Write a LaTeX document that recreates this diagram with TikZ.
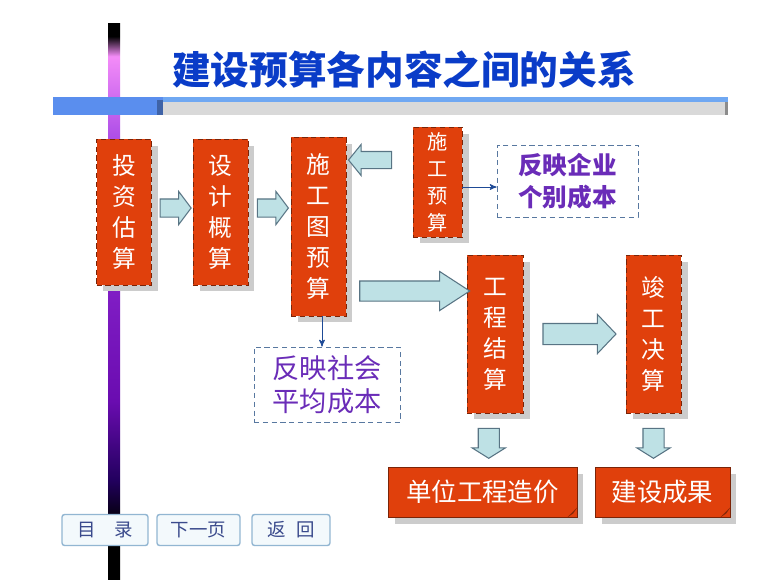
\documentclass[tikz,border=0pt]{standalone}
\usepackage{fontspec}
\newfontfamily\cjk{Noto Sans CJK SC}
\usepackage{tikz}
\usetikzlibrary{arrows, shapes.arrows, shadows, calc}
\usepackage{color}

\definecolor{boxred}{HTML}{E0400C}
\definecolor{boxline}{HTML}{7A2408}
\definecolor{arrowfill}{HTML}{BEE1E5}
\definecolor{arrowline}{HTML}{587484}
\definecolor{titleblue}{HTML}{0A3CC8}
\definecolor{notepurple}{HTML}{6A2CB8}
\definecolor{noteline}{HTML}{5878A0}
\definecolor{linkblue}{HTML}{1E4A96}
\definecolor{barblue}{HTML}{5A8EEE}
\definecolor{bartop}{HTML}{70A8F2}
\definecolor{bargray}{HTML}{D9D9D9}
\definecolor{btnfill}{HTML}{F3F9FC}
\definecolor{btnline}{HTML}{92B6D2}
\definecolor{btntext}{HTML}{3A4A8C}
\definecolor{barpink}{HTML}{F48CF8}
\definecolor{barviolet}{HTML}{B050E8}
\definecolor{barpurple}{HTML}{8420C8}
\definecolor{bardeep}{HTML}{6A0CB0}
\definecolor{barnavy}{HTML}{22005E}

% the path is fitted to 25bp..75bp of the shading
\pgfdeclareverticalshading{purplebar}{100bp}{color(0bp)=(black); color(29.9bp)=(black);
  color(33.9bp)=(barnavy); color(41bp)=(bardeep); color(52.5bp)=(barpurple);
  color(65bp)=(barviolet); color(72bp)=(barpink); color(73.8bp)=(black); color(100bp)=(black)}

\tikzset{
  redbox/.style={draw=boxline, densely dashed, fill=boxred, text=white, inner sep=0pt,
    minimum width=1.1cm, align=center, font=\cjk\fontsize{13.5}{17.6}\selectfont,
    drop shadow={shadow xshift=0.13cm, shadow yshift=-0.13cm, fill=black!20, opacity=1}},
  resultbox/.style={redbox, solid, font=\cjk\fontsize{14.5}{18}\selectfont},
  flowarrow/.style={single arrow, draw=arrowline, fill=arrowfill, line width=0.6pt,
    inner xsep=0pt, minimum width=0pt},
  notebox/.style={draw=noteline, densely dashed, fill=white, text=notepurple, align=center},
  linkarrow/.style={->, >=stealth', draw=linkblue, line width=0.5pt},
  navbtn/.style={draw=btnline, line width=0.8pt, rounded corners=1.5pt, fill=btnfill,
    text=btntext, minimum height=0.62cm, font=\cjk\fontsize{10.5}{12}\selectfont}
}

\begin{document}
\begin{tikzpicture}[x=0.02cm, y=-0.02cm]
  \useasboundingbox[fill=white] (0,0) rectangle (760,579);

  % side bar and title bar
  \shade[shading=purplebar] (108,23) rectangle (120,579);
  \fill[bartop] (162,97) rectangle (728,102);
  \fill[bargray] (162,102) rectangle (728,115);
  \fill[black!45] (725,102) rectangle (728,115);
  \fill[barblue] (53,97) rectangle (163,115);
  \fill[barblue!70!black] (157,100) rectangle (163,115);

  \node[font=\cjk\bfseries\fontsize{22}{26}\selectfont, text=titleblue] (title) at (404,70) {建设预算各内容之间的关系};

  % main boxes
  \node[redbox, minimum height=2.92cm] (tz) at (124,212) {投\\资\\估\\算};
  \node[redbox, minimum height=2.92cm] (sj) at (220.5,212) {设\\计\\概\\算};
  \node[redbox, minimum height=3.58cm] (sgt) at (318.5,226.5) {施\\工\\图\\预\\算};
  \node[redbox, minimum width=0.98cm, minimum height=2.2cm,
    font=\cjk\fontsize{11.5}{15.3}\selectfont] (sg) at (437.5,182) {施\\工\\预\\算};
  \node[redbox, minimum width=1.12cm, minimum height=3.16cm] (js) at (495,334) {工\\程\\结\\算};
  \node[redbox, minimum height=3.16cm] (jg) at (653.5,334) {竣\\工\\决\\算};
  \node[resultbox, minimum width=3.78cm, minimum height=1cm] (dw) at (482.5,492) {单位工程造价};
  \node[resultbox, minimum width=2.7cm, minimum height=1cm] (cg) at (662.5,492) {建设成果};
  \fill[boxred!60!black] ($(dw.south east)+(-10,0)$) -- ($(dw.south east)+(0,-10)$) -- ($(dw.south east)+(-4,-4)$) -- cycle;
  \fill[boxred!60!black] ($(cg.south east)+(-10,0)$) -- ($(cg.south east)+(0,-10)$) -- ($(cg.south east)+(-4,-4)$) -- cycle;

  % notes
  \node[notebox, minimum width=2.82cm, minimum height=1.44cm,
    font=\cjk\bfseries\fontsize{14}{18}\selectfont] (qy) at (567.5,181) {反映企业\\个别成本};
  \node[notebox, minimum width=2.92cm, minimum height=1.5cm,
    font=\cjk\fontsize{15.5}{18.5}\selectfont] (sh) at (327,384.5) {反映社会\\平均成本};

  % block arrows
  \node[flowarrow, minimum height=0.62cm, inner ysep=0.17cm, single arrow head extend=0.15cm,
    single arrow tip angle=106] (a1) at ($(tz.east)!0.5!(sj.west)+(0,-4)$) {};
  \node[flowarrow, minimum height=0.62cm, inner ysep=0.17cm, single arrow head extend=0.15cm,
    single arrow tip angle=106] (a2) at ($(sj.east)!0.5!(sgt.west |- sj.east)+(0,-4)$) {};
  \node[flowarrow, minimum height=0.86cm, inner ysep=0.16cm, single arrow head extend=0.14cm,
    single arrow tip angle=102, shape border rotate=180] (a3) at (373.5,160) {};
  \node[flowarrow, minimum height=2.2cm, inner ysep=0.19cm, single arrow head extend=0.19cm,
    single arrow tip angle=66] (a4) at (407,291) {};
  \node[flowarrow, minimum height=1.46cm, inner ysep=0.2cm, single arrow head extend=0.18cm,
    single arrow tip angle=93] (a5) at ($(js.east)!0.5!(jg.west)$) {};
  \node[flowarrow, minimum height=0.6cm, inner ysep=0.2cm, single arrow head extend=0.12cm,
    single arrow tip angle=116, rotate=-90] (a6) at ($(js.south)!0.5!(dw.north)$) {};
  \node[flowarrow, minimum height=0.6cm, inner ysep=0.2cm, single arrow head extend=0.12cm,
    single arrow tip angle=116, rotate=-90] (a7) at ($(jg.south)!0.5!(jg.south |- cg.north)$) {};

  % thin links
  \draw[linkarrow] ([yshift=-0.1cm]sg.east) -- ([yshift=-0.1cm]sg.east -| qy.west);
  \draw[linkarrow] ([xshift=0.07cm]sgt.south) -- ([xshift=0.07cm]sgt.south |- sh.north);

  % navigation
  \node[navbtn, minimum width=1.72cm] (ml) at (105,530) {目\quad 录};
  \node[navbtn, minimum width=1.66cm] (xy) at (198.5,530) {下一页};
  \node[navbtn, minimum width=1.56cm] (fh) at (291,530) {返\hspace{6pt}回};
\end{tikzpicture}
\end{document}
